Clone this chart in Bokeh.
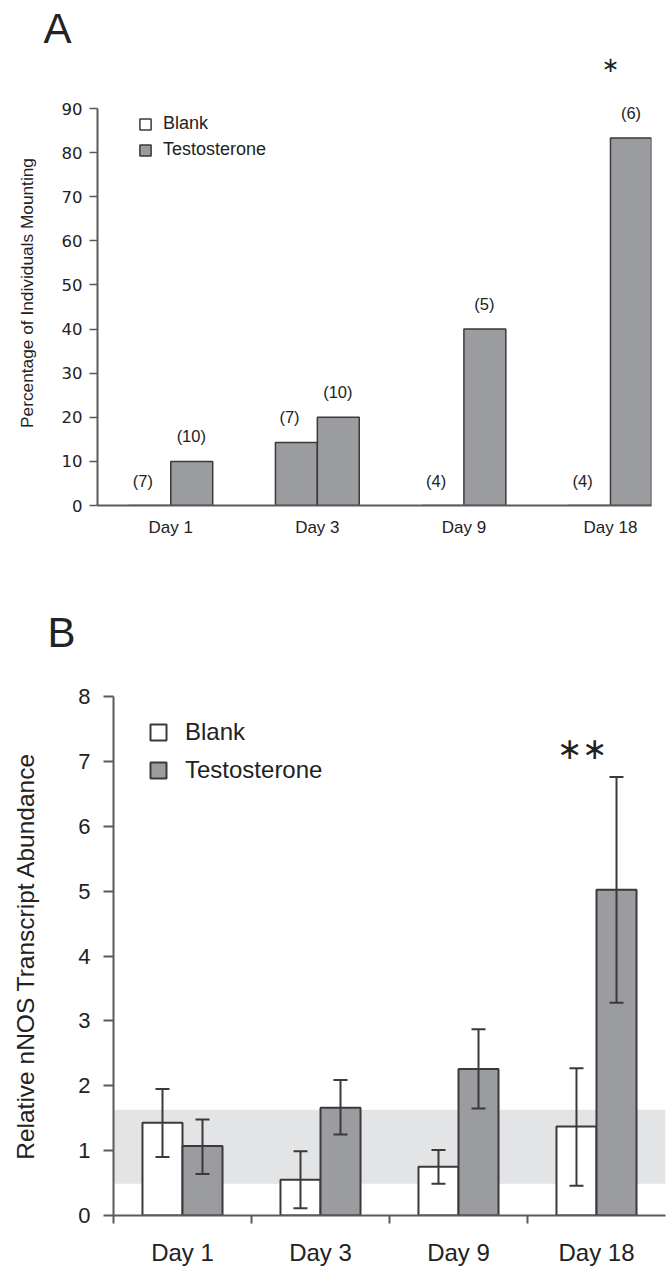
from bokeh.plotting import figure
from bokeh.models import (Range1d, FixedTicker, Label, Legend, LegendItem, Whisker,
                          TeeHead, BoxAnnotation, ColumnDataSource)
from bokeh.layouts import column
from bokeh.core.properties import value
from bokeh.embed import file_html
from bokeh.resources import INLINE

# ---------------- data ----------------
days = ["Day 1", "Day 3", "Day 9", "Day 18"]

# Panel A: percentage of individuals mounting
mount_blank = [0.0, 14.3, 0.0, 0.0]
mount_testo = [10.0, 20.0, 40.0, 83.3]
n_blank = ["(7)", "(7)", "(4)", "(4)"]
n_testo = ["(10)", "(10)", "(5)", "(6)"]
sig_a = "\u2217"
sig_a_day = 3          # index of Day 18

# Panel B: relative nNOS transcript abundance (mean, lower, upper)
nnos_blank = [1.43, 0.55, 0.75, 1.37]
nnos_blank_lo = [0.90, 0.11, 0.49, 0.46]
nnos_blank_hi = [1.95, 0.99, 1.01, 2.27]
nnos_testo = [1.07, 1.66, 2.26, 5.02]
nnos_testo_lo = [0.64, 1.25, 1.65, 3.28]
nnos_testo_hi = [1.48, 2.09, 2.87, 6.76]
band_range = [0.49, 1.63]
sig_b_level = 7.2

# ---------------- styles ----------------
GREY = "#9b9ca0"
EDGE = "#3a3a3a"
AXIS = "#5a5a5a"
TXT = "#222222"
SANS = "Liberation Sans"
W = 670

idx = list(range(len(days)))
overrides = {i: d for i, d in enumerate(days)}

# panel A horizontal geometry (shared by its header strip)
XA0, XA1 = -0.5, 3.28
LA, RA = 97, 19
sA = (W - LA - RA) / (XA1 - XA0)


def strip(h, x_range):
    hp = figure(width=W, height=h, x_range=x_range, y_range=Range1d(0, h),
                x_axis_type=None, y_axis_type=None, output_backend="svg",
                toolbar_location=None, frame_align=False, min_border=0)
    hp.grid.visible = False
    hp.outline_line_color = None
    return hp


# header of panel A: letter + significance mark, same x scale as panel A
HA = 80
hdrA = strip(HA, Range1d(XA0 - LA / sA, XA1 + RA / sA))
hdrA.text(x=[XA0 - (LA - 43) / sA], y=[HA - 27.5], text=["A"], text_baseline="middle",
          text_align="left", text_font=value(SANS), text_font_size="42px",
          text_line_height=1.0, text_color=TXT)
hdrA.text(x=[sig_a_day], y=[HA - 64], text=[sig_a], text_baseline="middle",
          text_align="center", text_font=value("DejaVu Sans"), text_font_size="21px",
          text_color=TXT)

# header of panel B
HB = 62
hdrB = strip(HB, Range1d(0, W))
hdrB.text(x=[47], y=[HB - 34], text=["B"], text_baseline="middle", text_align="left",
          text_font=value(SANS), text_font_size="42px", text_line_height=1.0,
          text_color=TXT)

# ======================= Panel A =======================
pA = figure(width=W, height=598 - HA, x_range=Range1d(XA0, XA1), y_range=Range1d(0, 96.35),
            output_backend="svg", toolbar_location=None, frame_align=False,
            min_border_left=LA, min_border_right=RA, min_border_top=0, min_border_bottom=93)
pA.grid.visible = False
pA.outline_line_color = None

dA = 0.143
wA = 0.286
srcA_b = ColumnDataSource(dict(x=[i - dA for i in idx], top=mount_blank, n=n_blank,
                               lx=[i - 0.19 for i in idx],
                               fill=["white", GREY, "white", "white"]))
srcA_t = ColumnDataSource(dict(x=[i + dA for i in idx], top=mount_testo, n=n_testo,
                               lx=[i + 0.14 for i in idx]))
rA_b = pA.vbar(x="x", top="top", width=wA, bottom=0, source=srcA_b, fill_color="fill",
               line_color=EDGE, line_width=1.5)
rA_t = pA.vbar(x="x", top="top", width=wA, bottom=0, source=srcA_t, fill_color=GREY,
               line_color=EDGE, line_width=1.5)
for s in (srcA_b, srcA_t):
    pA.text(x="lx", y="top", text="n", source=s, y_offset=-25, text_align="center",
            text_baseline="middle", text_font=value(SANS), text_font_size="16.5px",
            text_color=TXT)

ax = pA.xaxis[0]
ax.ticker = FixedTicker(ticks=idx)
ax.major_label_overrides = overrides
ax.major_tick_line_color = None
ax.minor_tick_line_color = None
ax.major_tick_out = 0
ax.major_tick_in = 0
ax.major_label_standoff = 12
ax.axis_line_color = AXIS
ax.axis_line_width = 2
ax.major_label_text_font = SANS
ax.major_label_text_font_size = "17px"
ax.major_label_text_color = TXT

ay = pA.yaxis[0]
ay.ticker = FixedTicker(ticks=list(range(0, 91, 10)))
ay.bounds = (0, 90)
ay.minor_tick_line_color = None
ay.major_tick_out = 8
ay.major_tick_in = 0
ay.major_tick_line_color = AXIS
ay.major_tick_line_width = 1.5
ay.axis_line_color = AXIS
ay.axis_line_width = 2
ay.major_label_standoff = 7
ay.major_label_text_font = "DejaVu Sans"
ay.major_label_text_font_size = "16.5px"
ay.major_label_text_color = TXT
ay.axis_label = "Percentage of Individuals Mounting"
ay.axis_label_text_font = SANS
ay.axis_label_text_font_style = "normal"
ay.axis_label_text_font_size = "17.3px"
ay.axis_label_text_color = TXT
ay.axis_label_standoff = 22

legA = Legend(items=[LegendItem(label="Blank", renderers=[rA_b], index=0),
                     LegendItem(label="Testosterone", renderers=[rA_t], index=0)],
              location=(41, 345), glyph_width=14, glyph_height=14, label_height=13,
              spacing=5, label_standoff=11, padding=0, margin=0,
              border_line_color=None, background_fill_alpha=0,
              label_text_font=SANS, label_text_font_size="18px", label_text_color=TXT)
pA.add_layout(legA)

# ======================= Panel B =======================
pB = figure(width=W, height=1268 - 598 - HB, x_range=Range1d(-0.5, 3.5), y_range=Range1d(0, 8),
            output_backend="svg", toolbar_location=None, frame_align=False,
            min_border_left=113, min_border_right=5, min_border_top=36, min_border_bottom=52)
pB.grid.visible = False
pB.outline_line_color = None

pB.add_layout(BoxAnnotation(bottom=band_range[0], top=band_range[1], fill_color="#e3e4e6",
                            fill_alpha=1, line_color=None, level="underlay"))

dB = 0.145
wB = 0.29
srcB_b = ColumnDataSource(dict(x=[i - dB for i in idx], top=nnos_blank,
                               lo=nnos_blank_lo, hi=nnos_blank_hi))
srcB_t = ColumnDataSource(dict(x=[i + dB for i in idx], top=nnos_testo,
                               lo=nnos_testo_lo, hi=nnos_testo_hi))
rB_b = pB.vbar(x="x", top="top", width=wB, bottom=0, source=srcB_b, fill_color="white",
               line_color=EDGE, line_width=2)
rB_t = pB.vbar(x="x", top="top", width=wB, bottom=0, source=srcB_t, fill_color=GREY,
               line_color=EDGE, line_width=2)
for s in (srcB_b, srcB_t):
    pB.add_layout(Whisker(source=s, base="x", upper="hi", lower="lo", line_color=EDGE,
                          line_width=2, level="overlay",
                          upper_head=TeeHead(size=14, line_color=EDGE, line_width=2),
                          lower_head=TeeHead(size=14, line_color=EDGE, line_width=2)))

for off in (-27, -2):
    pB.add_layout(Label(x=3, y=sig_b_level, x_offset=off, text=sig_a, text_align="center",
                        text_baseline="middle", text_font="DejaVu Sans",
                        text_font_size="30px", text_color=TXT))

bx = pB.xaxis[0]
bx.ticker = FixedTicker(ticks=idx, minor_ticks=[-0.5, 0.5, 1.5, 2.5])
bx.major_label_overrides = overrides
bx.major_tick_line_color = None
bx.major_tick_out = 0
bx.major_tick_in = 0
bx.minor_tick_out = 8
bx.minor_tick_in = 0
bx.minor_tick_line_color = AXIS
bx.minor_tick_line_width = 2
bx.major_label_standoff = 15
bx.axis_line_color = AXIS
bx.axis_line_width = 2
bx.major_label_text_font = SANS
bx.major_label_text_font_size = "24px"
bx.major_label_text_color = TXT

by = pB.yaxis[0]
by.ticker = FixedTicker(ticks=list(range(0, 9)))
by.minor_tick_line_color = None
by.major_tick_out = 10
by.major_tick_in = 0
by.major_tick_line_color = AXIS
by.major_tick_line_width = 2
by.axis_line_color = AXIS
by.axis_line_width = 2
by.major_label_standoff = 13
by.major_label_text_font = SANS
by.major_label_text_font_size = "22px"
by.major_label_text_color = TXT
by.axis_label = "Relative nNOS Transcript Abundance"
by.axis_label_text_font = SANS
by.axis_label_text_font_style = "normal"
by.axis_label_text_font_size = "24.5px"
by.axis_label_text_color = TXT
by.axis_label_standoff = 36

legB = Legend(items=[LegendItem(label="Blank", renderers=[rB_b], index=0),
                     LegendItem(label="Testosterone", renderers=[rB_t], index=0)],
              location=(35, 431), glyph_width=20, glyph_height=20, label_height=19,
              spacing=10, label_standoff=17, padding=0, margin=0,
              border_line_color=None, background_fill_alpha=0,
              label_text_font=SANS, label_text_font_size="24px", label_text_color=TXT)
pB.add_layout(legB)

layout = column(hdrA, pA, hdrB, pB, spacing=0)
open("out.html", "w").write(file_html(layout, INLINE))
